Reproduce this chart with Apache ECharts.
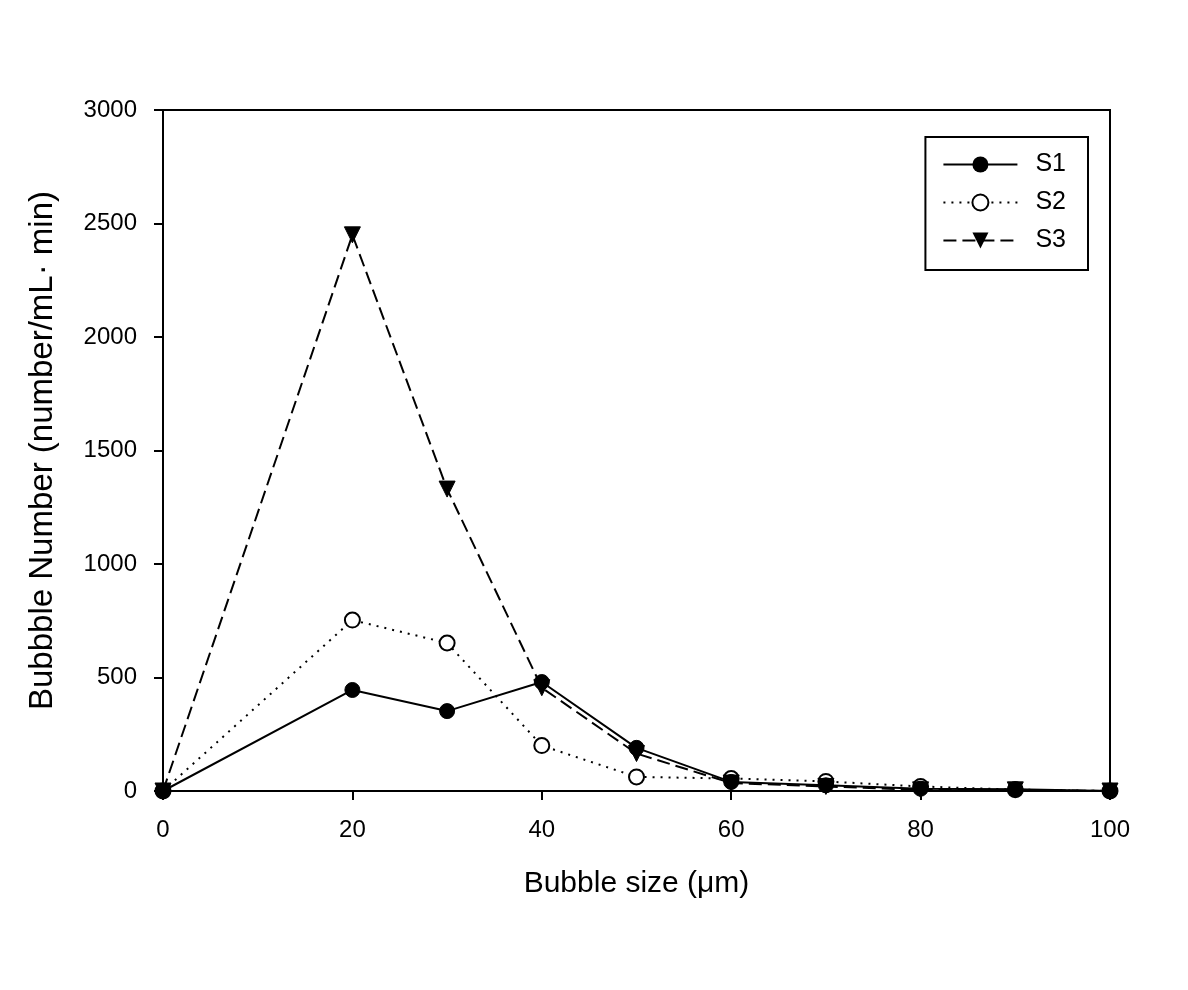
<!DOCTYPE html>
<html>
<head>
<meta charset="utf-8">
<script src="https://cdn.jsdelivr.net/npm/echarts@6/dist/echarts.min.js"></script>
<style>
  html, body { margin: 0; padding: 0; background: #fff; }
  #chart { width: 1188px; height: 990px; }
</style>
</head>
<body>
<div id="chart"></div>
<script>
// bubble size (µm)
const sizes = [0, 20, 30, 40, 50, 60, 70, 80, 90, 100]
// bubble number per series
const s1 = [0, 445, 352, 480, 190, 40, 25, 10, 8, 0]
const s2 = [0, 753, 652, 200, 62, 55, 42, 20, 6, 0]
const s3 = [0, 2450, 1330, 455, 165, 35, 20, 5, 5, 0]
const xTicks = [0, 20, 40, 60, 80, 100]
const yTicks = [0, 500, 1000, 1500, 2000, 2500, 3000]

const pairs = (vals) => sizes.map((x, i) => [x, vals[i]])

const chart = echarts.init(document.getElementById('chart'))
const font = 'Liberation Sans, Arial, sans-serif'

const option = {
  backgroundColor: '#fff',
  animation: false,
  grid: {
    left: 163, right: 78, top: 110, bottom: 199,
    show: true, borderColor: '#000', borderWidth: 2
  },
  legend: {
    right: 100, top: 137,
    orient: 'vertical',
    backgroundColor: '#fff',
    borderColor: '#000', borderWidth: 2,
    padding: [15, 22, 17, 17],
    itemWidth: 74, itemHeight: 20,
    itemGap: 13,
    textStyle: { fontFamily: font, fontSize: 25, color: '#000', padding: [0, 0, 0, 13] },
    data: ['S1', 'S2', 'S3']
  },
  xAxis: {
    type: 'value',
    min: 0, max: 100, interval: 20,
    name: 'Bubble size (\u03bcm)',
    nameLocation: 'middle', nameGap: 78,
    nameTextStyle: { fontFamily: font, fontSize: 30, color: '#000' },
    axisLine: { lineStyle: { color: '#000', width: 2 } },
    axisTick: { show: true, length: 9, lineStyle: { color: '#000', width: 2 } },
    axisLabel: {
      fontFamily: font, fontSize: 24, color: '#000', margin: 27,
      formatter: (v) => xTicks.includes(v) ? String(v) : ''
    },
    splitLine: { show: false }
  },
  yAxis: {
    type: 'value',
    min: 0, max: 3000, interval: 500,
    name: 'Bubbble Number (number/mL\u00b7 min)',
    nameLocation: 'middle', nameGap: 104,
    nameTextStyle: { fontFamily: font, fontSize: 33, color: '#000' },
    axisLine: { show: true, lineStyle: { color: '#000', width: 2 } },
    axisTick: { show: true, length: 9, lineStyle: { color: '#000', width: 2 } },
    axisLabel: {
      fontFamily: font, fontSize: 24, color: '#000', margin: 26,
      formatter: (v) => yTicks.includes(v) ? String(v) : ''
    },
    splitLine: { show: false }
  },
  series: [
    {
      name: 'S1', type: 'line', data: pairs(s1),
      symbol: 'circle', symbolSize: 15,
      itemStyle: { color: '#000', borderColor: '#000' },
      lineStyle: { color: '#000', width: 2, type: 'solid' },
      z: 3
    },
    {
      name: 'S2', type: 'line', data: pairs(s2),
      symbol: 'circle', symbolSize: 15,
      itemStyle: { color: '#fff', borderColor: '#000', borderWidth: 2 },
      lineStyle: { color: '#000', width: 2, type: [2, 6] },
      z: 2
    },
    {
      name: 'S3', type: 'line', data: pairs(s3),
      symbol: 'triangle', symbolRotate: 180, symbolSize: 16,
      itemStyle: { color: '#000', borderColor: '#000' },
      lineStyle: { color: '#000', width: 2, type: [13, 6] },
      z: 4
    }
  ]
}

chart.setOption(option)
window.addEventListener('resize', () => chart.resize())
</script>
</body>
</html>
